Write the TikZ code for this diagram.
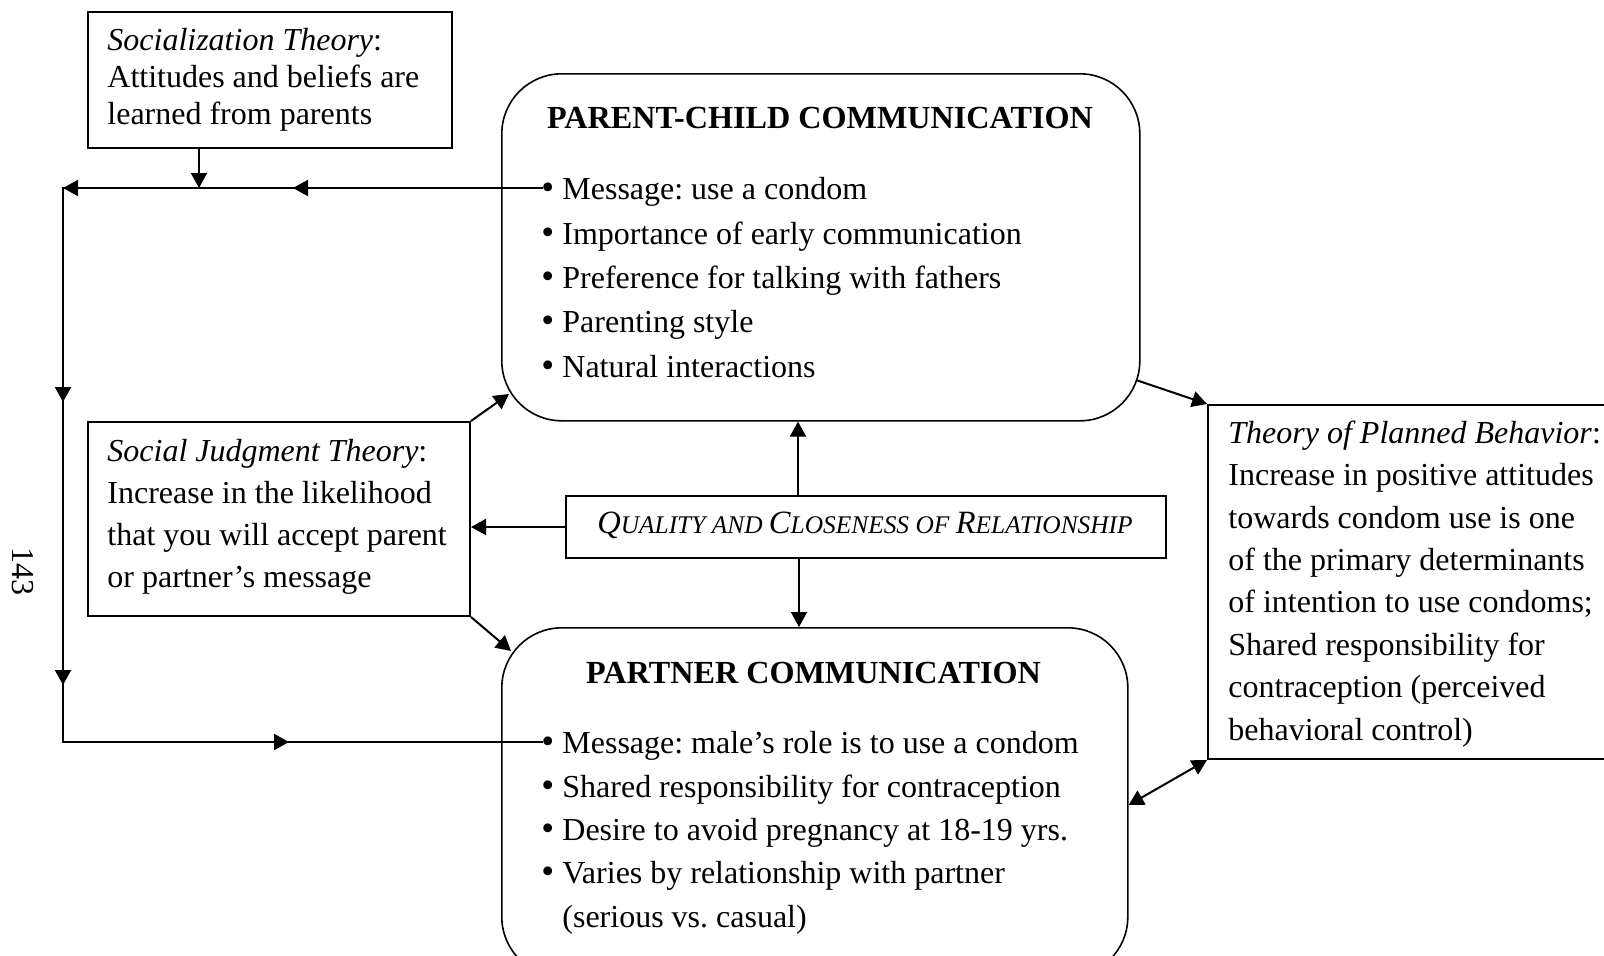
\documentclass[tikz,border=0pt]{standalone}
\usepackage{fontspec}
\setmainfont{Liberation Serif}
\usetikzlibrary{arrows.meta,calc}
\frenchspacing
\newcommand\qcsc[2]{{\fontsize{16.25}{19}\selectfont #1}{\fontsize{12.7}{15}\selectfont #2}}
\newcommand\bul{\makebox[10.5pt][l]{\scalebox{1.15}{•}}}
\begin{document}
\begin{tikzpicture}[x=0.5pt,y=-0.5pt,
  box/.style={draw, line width=1pt, anchor=north west, inner sep=0pt},
  rbox/.style={draw, line width=0.8pt, rounded corners=30pt, anchor=north west, inner sep=0pt},
  txt/.style={anchor=base west, inner sep=0pt, align=left},
  conn/.style={line width=1pt},
  arr/.style={conn, -{Triangle[length=7.5pt,width=8pt]}},
  dbl/.style={conn, {Triangle[length=7.5pt,width=8pt]}-{Triangle[length=7.5pt,width=8pt]}},
]
\useasboundingbox (0,0) rectangle (1604,955);
\clip (0,0) rectangle (1604,955);

% boxes
\node[box, minimum width=182pt, minimum height=68pt] (soc) at (87,11) {};
\node[box, minimum width=191pt, minimum height=97pt] (sj) at (87,421) {};
\node[rbox, minimum width=319pt, minimum height=173.5pt] (pc) at (501,73) {};
\node[rbox, minimum width=313pt, minimum height=174.5pt] (pt) at (501,627) {};
\node[box, minimum width=300pt, minimum height=31pt] (qc) at (565,495) {};
\node[box, minimum width=211.5pt, minimum height=177pt] (tpb) at (1207,404) {};

% texts (anchored at the baseline of the last line)
\node[txt, font=\fontsize{16}{18.35}\selectfont] (soct) at (107,124)
  {\textit{Socialization Theory}:\\Attitudes and beliefs are\\learned from parents};
\node[txt, font=\fontsize{16}{21}\selectfont] (sjt) at (107,587)
  {\textit{Social Judgment Theory}:\\Increase in the likelihood\\that you will accept parent\\or partner’s message};
\node[txt, font=\fontsize{16}{21.2}\selectfont] (tpbt) at (1228,740)
  {\textit{Theory of Planned Behavior}:\\Increase in positive attitudes\\towards condom use is one\\of the primary determinants\\of intention to use condoms;\\Shared responsibility for\\contraception (perceived\\behavioral control)};
\node[anchor=base, inner sep=0pt, font=\fontsize{16.1}{18}\selectfont\bfseries] (pctitle) at (820,128)
  {PARENT-CHILD COMMUNICATION};
\node[txt, font=\fontsize{16}{22.15}\selectfont] (pct) at (541,377)
  {\bul Message: use a condom\\\bul Importance of early communication\\\bul Preference for talking with fathers\\\bul Parenting style\\\bul Natural interactions};
\node[anchor=base, inner sep=0pt, font=\fontsize{16.1}{18}\selectfont\bfseries] (pttitle) at (813.5,683)
  {PARTNER COMMUNICATION};
\node[txt, font=\fontsize{16}{21.65}\selectfont] (ptt) at (541,927)
  {\bul Message: male’s role is to use a condom\\\bul Shared responsibility for contraception\\\bul Desire to avoid pregnancy at 18-19 yrs.\\\bul Varies by relationship with partner\\\hspace*{10.5pt}(serious vs. casual)};
\node[anchor=base, inner sep=0pt, font=\itshape] (qct) at (865,533)
  {\qcsc{Q}{UALITY AND }\qcsc{C}{LOSENESS OF }\qcsc{R}{ELATIONSHIP}};
\node[rotate=-90, inner sep=0pt, font=\fontsize{16}{19}\selectfont] (pg) at (23,571) {143};

% connector points
\coordinate (tl) at (63,188);
\coordinate (ta) at (293,188);
\coordinate (ts) at (199,188);
\coordinate (pcin) at (543,188);
\coordinate (va) at (63,402);
\coordinate (vb) at (63,685);
\coordinate (bl) at (63,742);
\coordinate (ba) at (289,742);
\coordinate (ptin) at (543,742);
\coordinate (pcsw) at (509,394);
\coordinate (ptnw) at (511,651);
\coordinate (qcu) at (798,0);
\coordinate (qcd) at (799,0);
\coordinate (pce) at (1136,380);
\coordinate (ptr) at (0,805);

% left feedback loop
\draw[conn] (pcin) -- (tl) -- (bl) -- (ptin);
\draw[arr] (pcin) -- (ta);
\draw[arr] (ta) -- (tl);
\draw[arr] (tl) -- (va);
\draw[arr] (va) -- (vb);
\draw[arr] (bl) -- (ba);
\draw[arr] (soc.south -| ts) -- (ts);

% other connectors
\draw[arr] (sj.north east) -- (pcsw);
\draw[arr] (sj.south east) -- (ptnw);
\draw[arr] (qc.west) -- (qc.west -| sj.east);
\draw[arr] (qc.north -| qcu) -- (pc.south -| qcu);
\draw[arr] (qc.south -| qcd) -- (pt.north -| qcd);
\draw[arr] (pce) -- (tpb.north west);
\draw[dbl] (pt.east |- ptr) -- (tpb.south west);
\end{tikzpicture}
\end{document}
